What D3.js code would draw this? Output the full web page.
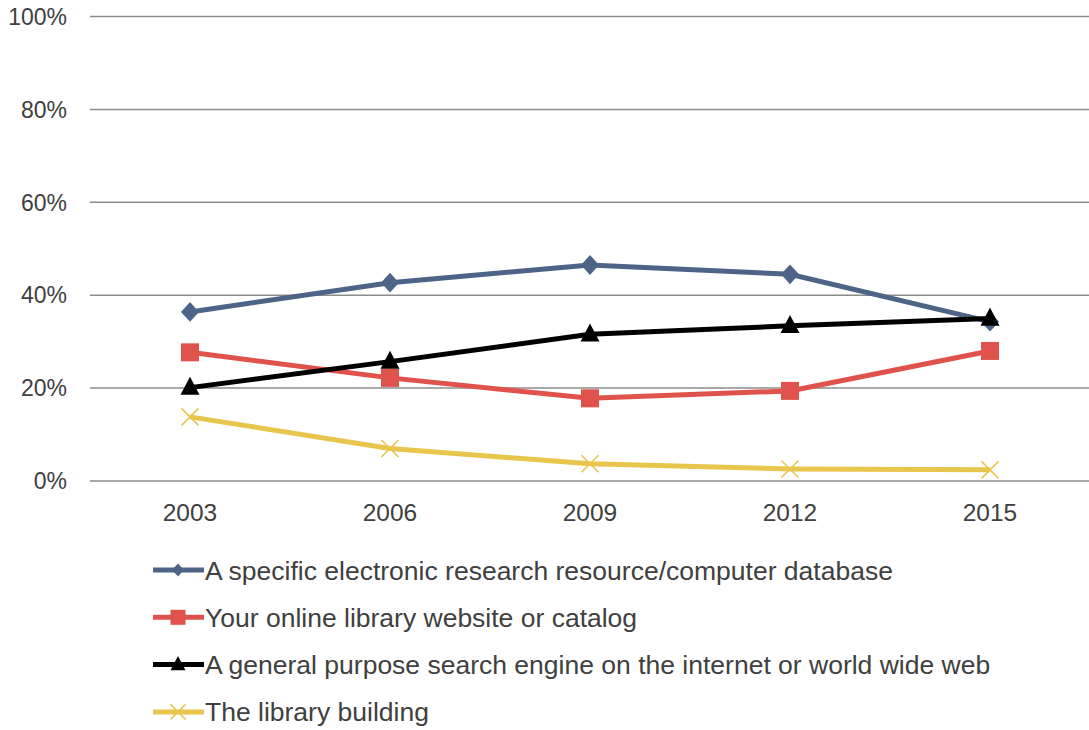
<!DOCTYPE html>
<html>
<head>
<meta charset="utf-8">
<script src="https://cdnjs.cloudflare.com/ajax/libs/d3/7.8.5/d3.min.js"></script>
<style>
  body { margin: 0; background: #fff; }
  svg text { font-family: "Liberation Sans", Arial, sans-serif; fill: #404040; }
</style>
</head>
<body>
<div id="container"></div>
<script>
var years = ["2003", "2006", "2009", "2012", "2015"];
var yTicks = [0, 0.2, 0.4, 0.6, 0.8, 1.0];
var seriesNames = [
  "A specific electronic research resource/computer database",
  "Your online library website or catalog",
  "A general purpose search engine on the internet or world wide web",
  "The library building"
];
var database = [0.364, 0.427, 0.465, 0.445, 0.343];
var website = [0.277, 0.222, 0.178, 0.194, 0.280];
var searchEngine = [0.201, 0.257, 0.316, 0.334, 0.350];
var building = [0.138, 0.070, 0.037, 0.026, 0.024];

var colors = ["#4d6487", "#e0524c", "#000000", "#e8c54d"];
var markers = ["diamond", "square", "triangle", "cross"];

var series = [database, website, searchEngine, building].map(function (v, i) {
  return { name: seriesNames[i], values: v, color: colors[i], marker: markers[i] };
});

var width = 1089, height = 730;
var svg = d3.select("#container").append("svg")
  .attr("width", width)
  .attr("height", height);

var x = d3.scalePoint().domain(years).range([90, 1090]).padding(0.5);
var y = d3.scaleLinear().domain([0, 1]).range([481, 16.5]);

// grid
svg.append("g")
  .selectAll("line")
  .data(yTicks)
  .enter()
  .append("line")
  .attr("x1", 90)
  .attr("x2", width)
  .attr("y1", function (d) { return y(d); })
  .attr("y2", function (d) { return y(d); })
  .style("stroke", "#8c8c8c")
  .style("stroke-width", 1.5);

// y labels
svg.append("g")
  .selectAll("text")
  .data(yTicks)
  .enter()
  .append("text")
  .attr("x", 67)
  .attr("y", function (d) { return y(d); })
  .attr("dy", "0.36em")
  .style("text-anchor", "end")
  .style("font-size", "23px")
  .text(d3.format(".0%"));

// x labels
svg.append("g")
  .selectAll("text")
  .data(years)
  .enter()
  .append("text")
  .attr("x", function (d) { return x(d); })
  .attr("y", 521)
  .style("text-anchor", "middle")
  .style("font-size", "24.5px")
  .text(function (d) { return d; });

function drawMarker(g, type, color, size) {
  var r = size / 2;
  if (type === "diamond") {
    g.append("path")
      .attr("d", "M0," + (-r * 1.1) + "L" + r + ",0L0," + (r * 1.1) + "L" + -r + ",0Z")
      .style("fill", color);
  } else if (type === "square") {
    g.append("rect").attr("x", -r).attr("y", -r)
      .attr("width", size).attr("height", size).style("fill", color);
  } else if (type === "triangle") {
    var h = size * 0.95;
    g.append("path")
      .attr("d", "M0," + (-h * 0.6) + "L" + r + "," + (h * 0.4) + "L" + -r + "," + (h * 0.4) + "Z")
      .style("fill", color);
  } else {
    g.append("path")
      .attr("d", "M" + -r + "," + -r + "L" + r + "," + r + "M" + -r + "," + r + "L" + r + "," + -r)
      .style("stroke", color).style("stroke-width", 1.5).style("fill", "none");
  }
}

var markerSize = { diamond: 18, square: 18, triangle: 19, cross: 17 };

var line = d3.line()
  .x(function (d, i) { return x(years[i]); })
  .y(function (d) { return y(d); });

var plot = svg.append("g");
series.forEach(function (s) {
  var g = plot.append("g");
  g.append("path")
    .attr("d", line(s.values))
    .style("fill", "none")
    .style("stroke", s.color)
    .style("stroke-width", 5);
  s.values.forEach(function (v, i) {
    var m = g.append("g").attr("transform", "translate(" + x(years[i]) + "," + y(v) + ")");
    drawMarker(m, s.marker, s.color, markerSize[s.marker]);
  });
});

// legend
var legend = svg.append("g");
series.forEach(function (s, i) {
  var ly = 570 + i * 47.3;
  var item = legend.append("g").attr("transform", "translate(0," + ly + ")");
  item.append("line")
    .attr("x1", 153).attr("x2", 204)
    .attr("y1", 0).attr("y2", 0)
    .style("stroke", s.color)
    .style("stroke-width", 5);
  var m = item.append("g").attr("transform", "translate(178,0)");
  drawMarker(m, s.marker, s.color, s.marker === "diamond" ? 12 : 15);
  item.append("text")
    .attr("x", 205)
    .attr("y", 0)
    .attr("dy", "0.36em")
    .style("font-size", "26.5px")
    .text(s.name);
});
</script>
</body>
</html>
